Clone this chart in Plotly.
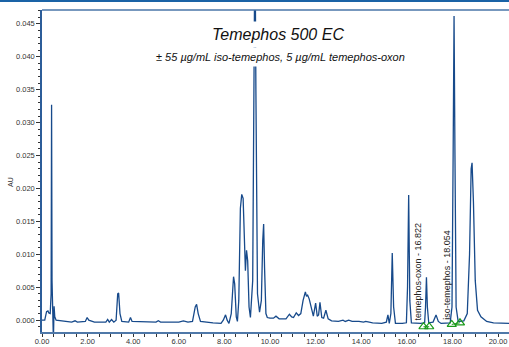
import plotly.graph_objects as go

# retention time (min) and absorbance (AU)
time_min = [0.00, 0.12, 0.20, 0.26, 0.30, 0.36, 0.40, 0.42, 0.44, 0.47, 0.50, 0.53, 0.56, 0.62, 0.80,
            1.00, 1.30, 1.45, 1.55, 1.90, 1.98, 2.05, 2.30, 2.80, 2.88, 2.95, 3.05, 3.15, 3.25, 3.32,
            3.36, 3.42, 3.50, 3.80, 3.88, 3.95, 4.50, 5.00, 5.10, 5.20, 6.00, 6.20, 6.40, 6.60, 6.72,
            6.78, 6.85, 6.95, 7.50, 7.85, 7.95, 8.05, 8.12, 8.20, 8.30, 8.40, 8.45, 8.52, 8.57, 8.63,
            8.70, 8.76, 8.82, 8.88, 8.92, 8.97, 9.02, 9.08, 9.14, 9.24, 9.31, 9.34, 9.38, 9.45, 9.54,
            9.62, 9.68, 9.72, 9.76, 9.82, 9.88, 10.00, 10.15, 10.26, 10.40, 10.70, 10.85, 10.95, 11.03,
            11.15, 11.25, 11.35, 11.45, 11.55, 11.60, 11.65, 11.72, 11.80, 11.90, 12.00, 12.07, 12.13,
            12.19, 12.27, 12.35, 12.45, 12.55, 12.70, 13.00, 13.20, 13.30, 13.45, 13.60, 13.90, 14.10,
            14.20, 14.50, 14.90, 15.10, 15.17, 15.23, 15.30, 15.36, 15.42, 15.50, 15.80, 15.98, 16.03,
            16.08, 16.13, 16.20, 16.60, 16.78, 16.82, 16.86, 16.90, 16.96, 17.15, 17.28, 17.38, 17.50,
            17.90, 17.98, 18.03, 18.07, 18.11, 18.16, 18.25, 18.50, 18.65, 18.75, 18.82, 18.86, 18.92,
            19.00, 19.10, 19.25, 19.50, 19.80, 20.50]
absorbance = [0.0000, 0.0000, 0.0013, 0.0014, 0.0011, 0.0010, 0.0040, 0.0327, 0.0060, -0.0030, -0.0030,
              0.0021, 0.0005, 0.0000, -0.0001, -0.0002, -0.0003, -0.0001, -0.0003, -0.0002, 0.0004,
              0.0000, -0.0003, -0.0003, 0.0001, -0.0003, 0.0001, -0.0003, 0.0000, 0.0040, 0.0041,
              0.0010, -0.0002, -0.0003, 0.0004, -0.0002, -0.0003, -0.0003, -0.0001, -0.0003, -0.0003,
              -0.0001, -0.0003, -0.0002, 0.0020, 0.0024, 0.0010, -0.0002, -0.0004, -0.0005, 0.0000,
              0.0008, 0.0000, -0.0005, 0.0010, 0.0066, 0.0055, 0.0005, -0.0002, 0.0030, 0.0170, 0.0191,
              0.0185, 0.0130, 0.0075, 0.0106, 0.0090, 0.0020, 0.0004, 0.0060, 0.0400, 0.0600, 0.0350,
              0.0040, 0.0012, 0.0030, 0.0120, 0.0146, 0.0080, 0.0010, 0.0004, 0.0003, 0.0003, 0.0006,
              0.0002, 0.0002, 0.0009, 0.0005, 0.0004, 0.0011, 0.0007, 0.0010, 0.0030, 0.0043, 0.0036,
              0.0038, 0.0032, 0.0020, 0.0006, 0.0026, 0.0006, 0.0008, 0.0027, 0.0004, 0.0003, 0.0015,
              0.0002, -0.0001, -0.0002, 0.0000, -0.0002, 0.0000, -0.0002, -0.0002, -0.0003, -0.0002,
              -0.0004, -0.0005, -0.0003, 0.0008, -0.0005, 0.0010, 0.0102, 0.0020, -0.0005, -0.0005,
              -0.0004, 0.0050, 0.0190, 0.0030, -0.0004, -0.0005, -0.0004, 0.0020, 0.0065, 0.0020,
              -0.0004, -0.0003, 0.0008, -0.0002, -0.0005, -0.0004, 0.0020, 0.0250, 0.0462, 0.0250,
              0.0020, -0.0002, -0.0001, 0.0010, 0.0100, 0.0230, 0.0239, 0.0180, 0.0060, 0.0015, 0.0005,
              -0.0002, -0.0004, -0.0005]

# integration baseline markers (start/end of integrated peaks)
marker_time = [16.73, 16.98, None, 17.97, 18.33]
marker_au = [-0.0010, -0.0010, None, -0.00065, -0.0004]

peak_names = ["temephos-oxon - 16.822", "iso-temephos - 18.054"]
peak_label_time = [16.51, 17.75]

x_ticks = [0, 2, 4, 6, 8, 10, 12, 14, 16, 18, 20]
y_ticks = [0.000, 0.005, 0.010, 0.015, 0.020, 0.025, 0.030, 0.035, 0.040, 0.045]

title_text = "Temephos 500 EC"
subtitle_text = "± 55 µg/mL iso-temephos, 5 µg/mL temephos-oxon"
y_title = "AU"

FONT = "Liberation Sans, Arial, sans-serif"

fig = go.Figure()
fig.add_trace(go.Scatter(x=time_min, y=absorbance, mode="lines",
                         line=dict(color="#174a8b", width=1.3), hoverinfo="skip"))
fig.add_trace(go.Scatter(x=marker_time, y=marker_au, mode="lines+markers",
                         line=dict(color="#1a9a1a", width=1),
                         marker=dict(symbol="triangle-up-open", size=8,
                                     color="#1a9a1a", line=dict(width=1.2, color="#1a9a1a")),
                         connectgaps=False, hoverinfo="skip"))

for name, t in zip(peak_names, peak_label_time):
    fig.add_annotation(x=t, y=-0.0003, xref="x", yref="y", text=name, textangle=-90,
                       showarrow=False, xanchor="center", yanchor="bottom",
                       font=dict(family=FONT, size=9, color="#222222"))

fig.add_annotation(x=(278 - 42) / 467, y=(322 - 25) / 322, xref="paper", yref="paper",
                   text="<i>" + title_text + "</i>", showarrow=False,
                   xanchor="center", yanchor="middle", bgcolor="white", borderpad=4,
                   font=dict(family=FONT, size=16, color="#111111"))
fig.add_annotation(x=(280 - 42) / 467, y=(322 - 47) / 322, xref="paper", yref="paper",
                   text="<i>" + subtitle_text + "</i>", showarrow=False,
                   xanchor="center", yanchor="middle", bgcolor="white", borderpad=3,
                   font=dict(family=FONT, size=11, color="#111111"))
fig.add_annotation(x=(10 - 42) / 467, y=(322 - 172) / 322, xref="paper", yref="paper",
                   text=y_title, textangle=-90, showarrow=False,
                   xanchor="center", yanchor="middle",
                   font=dict(family=FONT, size=7, color="#333333"))

# frame lines
fig.add_shape(type="line", xref="paper", yref="paper", x0=0, x1=1, y0=1, y1=1,
              line=dict(color="#4a76a8", width=1.5))
fig.add_shape(type="line", xref="paper", yref="paper", x0=-42 / 467, x1=1,
              y0=1 + 9 / 322, y1=1 + 9 / 322, line=dict(color="#1a63a6", width=2))

fig.update_layout(
    width=509, height=347,
    margin=dict(l=42, r=0, t=10, b=15),
    paper_bgcolor="white", plot_bgcolor="white",
    showlegend=False,
    font=dict(family=FONT, size=7.5, color="#333333"),
    xaxis=dict(range=[0, 20.48], tickvals=x_ticks,
               ticktext=[f"{v:.2f}" for v in x_ticks],
               showgrid=False, zeroline=False, showline=True, automargin=False,
               linecolor="#4f78a8", linewidth=2, ticks="outside", ticklen=3,
               tickcolor="#333333", tickwidth=1, ticklabelstandoff=-2,
               minor=dict(dtick=0.5, ticks="outside", ticklen=3, tickcolor="#333333", showgrid=False),
               tickfont=dict(family=FONT, size=7.5, color="#333333")),
    yaxis=dict(range=[-0.0018, 0.0471], tickvals=y_ticks,
               ticktext=[f"{v:.3f}" for v in y_ticks],
               showgrid=False, zeroline=False, showline=True, automargin=False,
               linecolor="#2c5d99", linewidth=1.5, ticks="outside", ticklen=4,
               tickcolor="#333333", tickwidth=1,
               minor=dict(dtick=0.001, ticks="outside", ticklen=2, tickcolor="#333333", showgrid=False),
               tickfont=dict(family=FONT, size=7.5, color="#333333")),
)

fig.write_html("out.html", config={"displayModeBar": False},
               post_script="document.body.style.margin='0';document.body.style.padding='0';")
